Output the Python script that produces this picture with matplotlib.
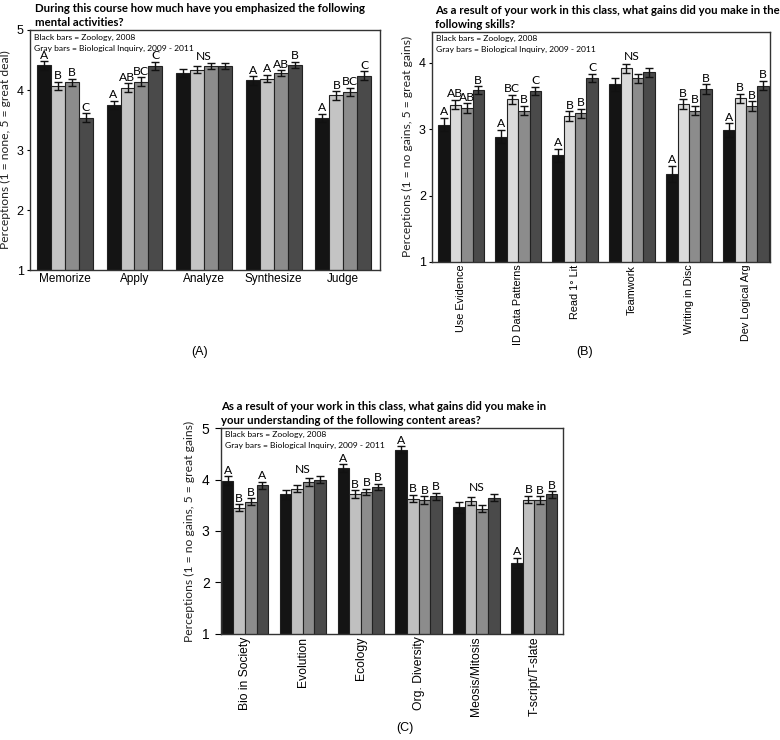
import numpy as np
import matplotlib
matplotlib.use("Agg")
import matplotlib.pyplot as plt

plt.rcParams["font.family"] = ["Liberation Sans", "DejaVu Sans"]

# panel A: mental activities
a_cats = ["Memorize", "Apply", "Analyze", "Synthesize", "Judge"]
a_vals = [
    [4.41, 3.75, 4.28, 4.16, 3.53],  # Zoology 2008
    [4.07, 4.04, 4.34, 4.19, 3.91],  # BI 2009
    [4.13, 4.14, 4.40, 4.28, 3.97],  # BI 2010
    [3.54, 4.40, 4.40, 4.42, 4.24],  # BI 2011
]
a_err = [
    [0.07, 0.07, 0.07, 0.07, 0.07],
    [0.07, 0.07, 0.06, 0.06, 0.07],
    [0.06, 0.07, 0.05, 0.05, 0.07],
    [0.07, 0.07, 0.05, 0.05, 0.07],
]
a_sig = [["A", "B", "B", "C"], ["A", "AB", "BC", "C"], "NS",
         ["A", "A", "AB", "B"], ["A", "B", "BC", "C"]]

# panel B: skills
b_cats = ["Use Evidence", "ID Data Patterns", "Read 1\u00b0 Lit", "Teamwork",
          "Writing in Disc", "Dev Logical Arg"]
b_vals = [
    [3.07, 2.89, 2.61, 3.68, 2.33, 2.99],
    [3.37, 3.45, 3.20, 3.92, 3.38, 3.47],
    [3.32, 3.28, 3.24, 3.77, 3.28, 3.35],
    [3.59, 3.58, 3.78, 3.86, 3.61, 3.66],
]
b_err = [
    [0.10, 0.10, 0.10, 0.10, 0.12, 0.10],
    [0.07, 0.07, 0.07, 0.07, 0.07, 0.07],
    [0.07, 0.07, 0.07, 0.07, 0.07, 0.07],
    [0.06, 0.06, 0.06, 0.07, 0.07, 0.07],
]
b_sig = [["A", "AB", "AB", "B"], ["A", "BC", "B", "C"], ["A", "B", "B", "C"],
         "NS", ["A", "B", "B", "B"], ["A", "B", "B", "B"]]

# panel C: content areas
c_cats = ["Bio in Society", "Evolution", "Ecology", "Org. Diversity",
          "Meosis/Mitosis", "T-script/T-slate"]
c_vals = [
    [3.98, 3.71, 4.22, 4.58, 3.46, 2.38],
    [3.45, 3.82, 3.72, 3.63, 3.58, 3.61],
    [3.57, 3.95, 3.76, 3.60, 3.43, 3.60],
    [3.89, 4.00, 3.86, 3.67, 3.65, 3.71],
]
c_err = [
    [0.08, 0.08, 0.08, 0.07, 0.11, 0.10],
    [0.07, 0.07, 0.07, 0.07, 0.08, 0.07],
    [0.07, 0.07, 0.06, 0.07, 0.07, 0.07],
    [0.07, 0.06, 0.06, 0.07, 0.07, 0.06],
]
c_sig = [["A", "B", "B", "A"], "NS", ["A", "B", "B", "B"], ["A", "B", "B", "B"],
         "NS", ["A", "B", "B", "B"]]

legend_txt = "Black bars = Zoology, 2008\nGray bars = Biological Inquiry, 2009 - 2011"
cal = ["Lato", "DejaVu Sans"]


def panel(ax, cats, vals, errs, sig, colors, title, ylabel, ylim, xlim, rotate,
          ylab_x, title_x, xfs):
    x = np.arange(len(cats))
    w = 0.2
    offs = [-0.3, -0.1, 0.1, 0.3]
    for k in range(4):
        ax.bar(x + offs[k], vals[k], w, bottom=0, color=colors[k],
               edgecolor="#222222", linewidth=0.8, zorder=2)
        ax.errorbar(x + offs[k], vals[k], yerr=errs[k], fmt="none",
                    ecolor="#111111", elinewidth=1.0, capsize=3.2, capthick=1.0, zorder=3)
    for i, s in enumerate(sig):
        if s == "NS":
            top = max(vals[k][i] + errs[k][i] for k in range(4))
            ax.text(x[i], top + 0.02, "NS", ha="center", va="bottom",
                    family=cal, fontsize=8.7)
        else:
            for k in range(4):
                ax.text(x[i] + offs[k], vals[k][i] + errs[k][i] + 0.01, s[k],
                        ha="center", va="bottom", family=cal, fontsize=8.7)
    ax.set_ylim(*ylim)
    ax.set_xlim(*xlim)
    ax.set_xticks(x)
    if rotate:
        ax.set_xticklabels(cats, rotation=90, fontsize=xfs)
    else:
        ax.set_xticklabels(cats, fontsize=xfs)
    ax.tick_params(axis="x", length=0, pad=2)
    ax.tick_params(axis="y", length=2.5, labelsize=9, pad=2)
    ax.set_ylabel(ylabel, family=cal, fontsize=8.7, color="#222222")
    ax.yaxis.set_label_coords(ylab_x, 0.5)
    ax.text(title_x, 1.01, title, transform=ax.transAxes, ha="left", va="bottom",
            family=cal, fontweight="bold", fontsize=8.2, linespacing=1.3)
    ax.text(0.012, 0.985, legend_txt, transform=ax.transAxes, ha="left", va="top",
            family=cal, fontsize=6.1, linespacing=1.65)
    for sp in ax.spines.values():
        sp.set_linewidth(1.0)
        sp.set_color("#333333")


fig = plt.figure(figsize=(7.8, 7.4), dpi=100)

axA = fig.add_axes([0.0385, 0.635, 0.449, 0.3245])
panel(axA, a_cats, a_vals, a_err, a_sig,
      ["#141414", "#c4c4c4", "#8c8c8c", "#4a4a4a"],
      "During this course how much have you emphasized the following\nmental activities?",
      "Perceptions (1 = none, 5 = great deal)", (1, 5), (-0.5, 4.53), False,
      -0.055, 0.015, 8.5)
axA.set_yticks([1, 2, 3, 4, 5])

axB = fig.add_axes([0.554, 0.646, 0.433, 0.311])
panel(axB, b_cats, b_vals, b_err, b_sig,
      ["#141414", "#dadada", "#8c8c8c", "#4a4a4a"],
      "As a result of your work in this class, what gains did you make in the\nfollowing skills?",
      "Perceptions (1 = no gains, 5 = great gains)", (1, 4.47), (-0.51, 5.42), True,
      -0.058, 0.01, 7.8)
axB.set_yticks([1, 2, 3, 4])

axC = fig.add_axes([0.283, 0.1435, 0.439, 0.278])
panel(axC, c_cats, c_vals, c_err, c_sig,
      ["#141414", "#c0c0c0", "#8c8c8c", "#4a4a4a"],
      "As a result of your work in this class, what gains did you make in\nyour understanding of the following content areas?",
      "Perceptions (1 = no gains, 5 = great gains)", (1, 5), (-0.42, 5.5), True,
      -0.076, 0.0, 8.7)
axC.set_yticks([1, 2, 3, 4, 5])
axC.tick_params(axis="y", labelsize=10, length=4, pad=4)

fig.text(200 / 780, 1 - 352 / 740, "(A)", ha="center", va="center", fontsize=9)
fig.text(585 / 780, 1 - 352 / 740, "(B)", ha="center", va="center", fontsize=9)
fig.text(405 / 780, 1 - 728 / 740, "(C)", ha="center", va="center", fontsize=9)

fig.savefig("out.png", dpi=100)
